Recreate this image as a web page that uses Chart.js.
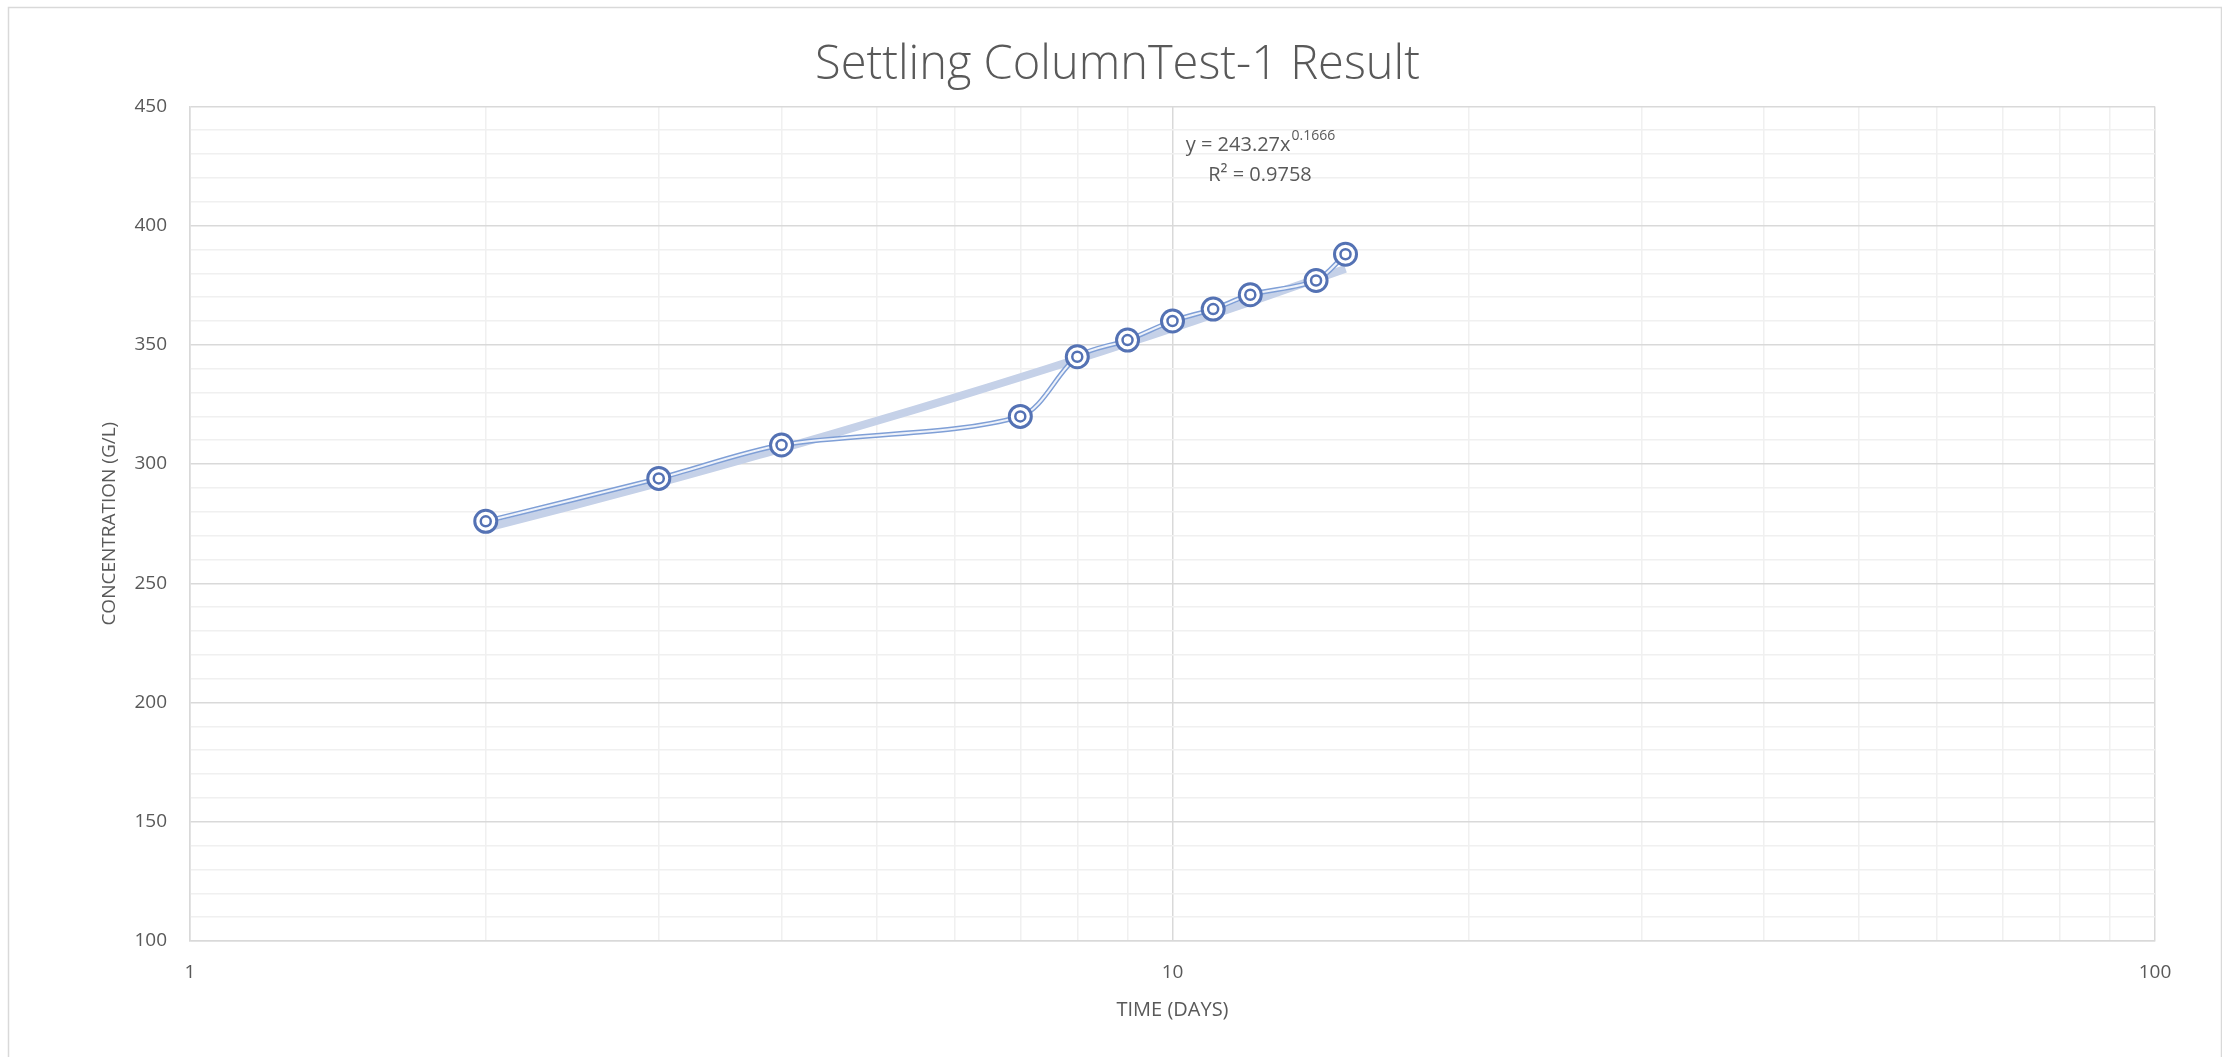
<!DOCTYPE html>
<html>
<head>
<meta charset="utf-8">
<title>Settling ColumnTest-1 Result</title>
<script src="https://cdn.jsdelivr.net/npm/chart.js@4.4.1/dist/chart.umd.min.js"></script>
<style>
  html, body { margin: 0; padding: 0; background: #fff; }
  canvas { display: block; }
</style>
</head>
<body>
<canvas id="settlingChart" width="2222" height="1057"></canvas>
<script>
// measured points
const timeDays = [2, 3, 4, 7, 8, 9, 10, 11, 12, 14, 15];
const concentration = [276, 294, 308, 320, 345, 352, 360, 365, 371, 377, 388];

// power trendline
const trendDays = [2, 3, 4, 5, 6, 7, 8, 9, 10, 11, 12, 13, 14, 15];
const trendConc = [273.1, 292.1, 306.5, 318.1, 327.9, 336.4, 344.0, 350.8, 357.0, 362.7, 368.0, 373.0, 377.6, 381.9];

// axes
const xGridValues = [1, 2, 3, 4, 5, 6, 7, 8, 9, 10, 20, 30, 40, 50, 60, 70, 80, 90, 100];
const xTickLabels = [1, 10, 100];
const yTickLabels = [100, 150, 200, 250, 300, 350, 400, 450];

const textGrey = '#595959';
const majorGrid = '#d9d9d9';
const minorGrid = '#f0f0f0';
const fontFamily = '"Open Sans", "Noto Sans", sans-serif';

const points = (xs, ys) => xs.map((x, i) => ({ x: x, y: ys[i] }));

const framePlugin = {
  id: 'frame',
  beforeDraw(chart) {
    const ctx = chart.ctx;
    ctx.save();
    ctx.fillStyle = '#fff';
    ctx.fillRect(0, 0, chart.width, chart.height);
    ctx.restore();
  },
  afterDraw(chart) {
    const ctx = chart.ctx;
    ctx.save();
    ctx.strokeStyle = majorGrid;
    ctx.lineWidth = 1.5;
    ctx.strokeRect(8.5, 7.5, chart.width - 9, chart.height + 10);
    ctx.restore();
  }
};

const equationPlugin = {
  id: 'equation',
  afterDatasetsDraw(chart) {
    const ctx = chart.ctx;
    ctx.save();
    ctx.fillStyle = textGrey;
    ctx.textBaseline = 'middle';
    const base = 'y = 243.27x';
    const sup = '0.1666';
    ctx.font = '20px ' + fontFamily;
    const wBase = ctx.measureText(base).width;
    ctx.font = '14px ' + fontFamily;
    const wSup = ctx.measureText(sup).width;
    const x = 1260 - (wBase + wSup) / 2;
    ctx.textAlign = 'left';
    ctx.font = '20px ' + fontFamily;
    ctx.fillText(base, x, 145);
    ctx.font = '14px ' + fontFamily;
    ctx.fillText(sup, x + wBase + 1, 136);
    ctx.font = '20px ' + fontFamily;
    ctx.textAlign = 'center';
    ctx.fillText('R² = 0.9758', 1260, 175);
    ctx.restore();
  }
};

const ctx = document.getElementById('settlingChart').getContext('2d');

new Chart(ctx, {
  type: 'line',
  data: {
    datasets: [
      {
        label: 'markers inner',
        data: points(timeDays, concentration),
        showLine: false,
        pointRadius: 5,
        pointBorderWidth: 2.5,
        pointBorderColor: '#5472b4',
        pointBackgroundColor: '#ffffff',
        order: 0
      },
      {
        label: 'markers outer',
        data: points(timeDays, concentration),
        showLine: false,
        pointRadius: 11,
        pointBorderWidth: 3,
        pointBorderColor: '#5472b4',
        pointBackgroundColor: '#ffffff',
        order: 1
      },
      {
        label: 'line inner',
        data: points(timeDays, concentration),
        borderColor: '#eef2fa',
        borderWidth: 2,
        tension: 0.3,
        pointRadius: 0,
        order: 2
      },
      {
        label: 'line outer',
        data: points(timeDays, concentration),
        borderColor: '#7f9fd6',
        borderWidth: 5,
        tension: 0.3,
        pointRadius: 0,
        order: 3
      },
      {
        label: 'Power trendline',
        data: points(trendDays, trendConc),
        borderColor: '#c5d1e8',
        borderWidth: 8,
        borderCapStyle: 'butt',
        tension: 0.4,
        pointRadius: 0,
        order: 4
      }
    ]
  },
  options: {
    responsive: false,
    animation: false,
    layout: { padding: { left: 80, right: 67, top: 0, bottom: 0 } },
    plugins: {
      legend: { display: false },
      tooltip: { enabled: false },
      title: {
        display: true,
        text: 'Settling ColumnTest-1 Result',
        color: textGrey,
        font: { family: fontFamily, size: 47, weight: 300, lineHeight: 1.2 },
        padding: { top: 37, bottom: 13 }
      }
    },
    scales: {
      x: {
        type: 'logarithmic',
        min: 1,
        max: 100,
        afterBuildTicks(scale) {
          scale.ticks = xGridValues.map(v => ({ value: v, major: xTickLabels.includes(v) }));
        },
        afterFit(scale) { scale.height = 116; },
        ticks: {
          autoSkip: false,
          maxRotation: 0,
          padding: 20,
          color: textGrey,
          font: { family: fontFamily, size: 19 },
          callback: (value) => xTickLabels.includes(value) ? String(value) : ''
        },
        grid: {
          drawTicks: false,
          lineWidth: 1.5,
          color: (c) => c.tick && xTickLabels.includes(c.tick.value) ? majorGrid : minorGrid
        },
        border: { color: majorGrid, width: 1.5 },
        title: {
          display: true,
          text: 'TIME (DAYS)',
          color: textGrey,
          font: { family: fontFamily, size: 20 },
          padding: { top: 0, bottom: 35 }
        }
      },
      y: {
        min: 100,
        max: 450,
        afterFit(scale) { scale.width = 110; },
        ticks: {
          stepSize: 10,
          autoSkip: false,
          padding: 23,
          color: textGrey,
          font: { family: fontFamily, size: 19 },
          callback: (value) => yTickLabels.includes(value) ? String(value) : ''
        },
        grid: {
          drawTicks: false,
          lineWidth: 1.5,
          color: (c) => c.tick && yTickLabels.includes(c.tick.value) ? majorGrid : minorGrid
        },
        border: { color: majorGrid, width: 1.5 },
        title: {
          display: true,
          text: 'CONCENTRATION (G/L)',
          color: textGrey,
          font: { family: fontFamily, size: 19 },
          padding: { top: 18, bottom: 0 }
        }
      }
    }
  },
  plugins: [framePlugin, equationPlugin]
});
</script>
</body>
</html>
